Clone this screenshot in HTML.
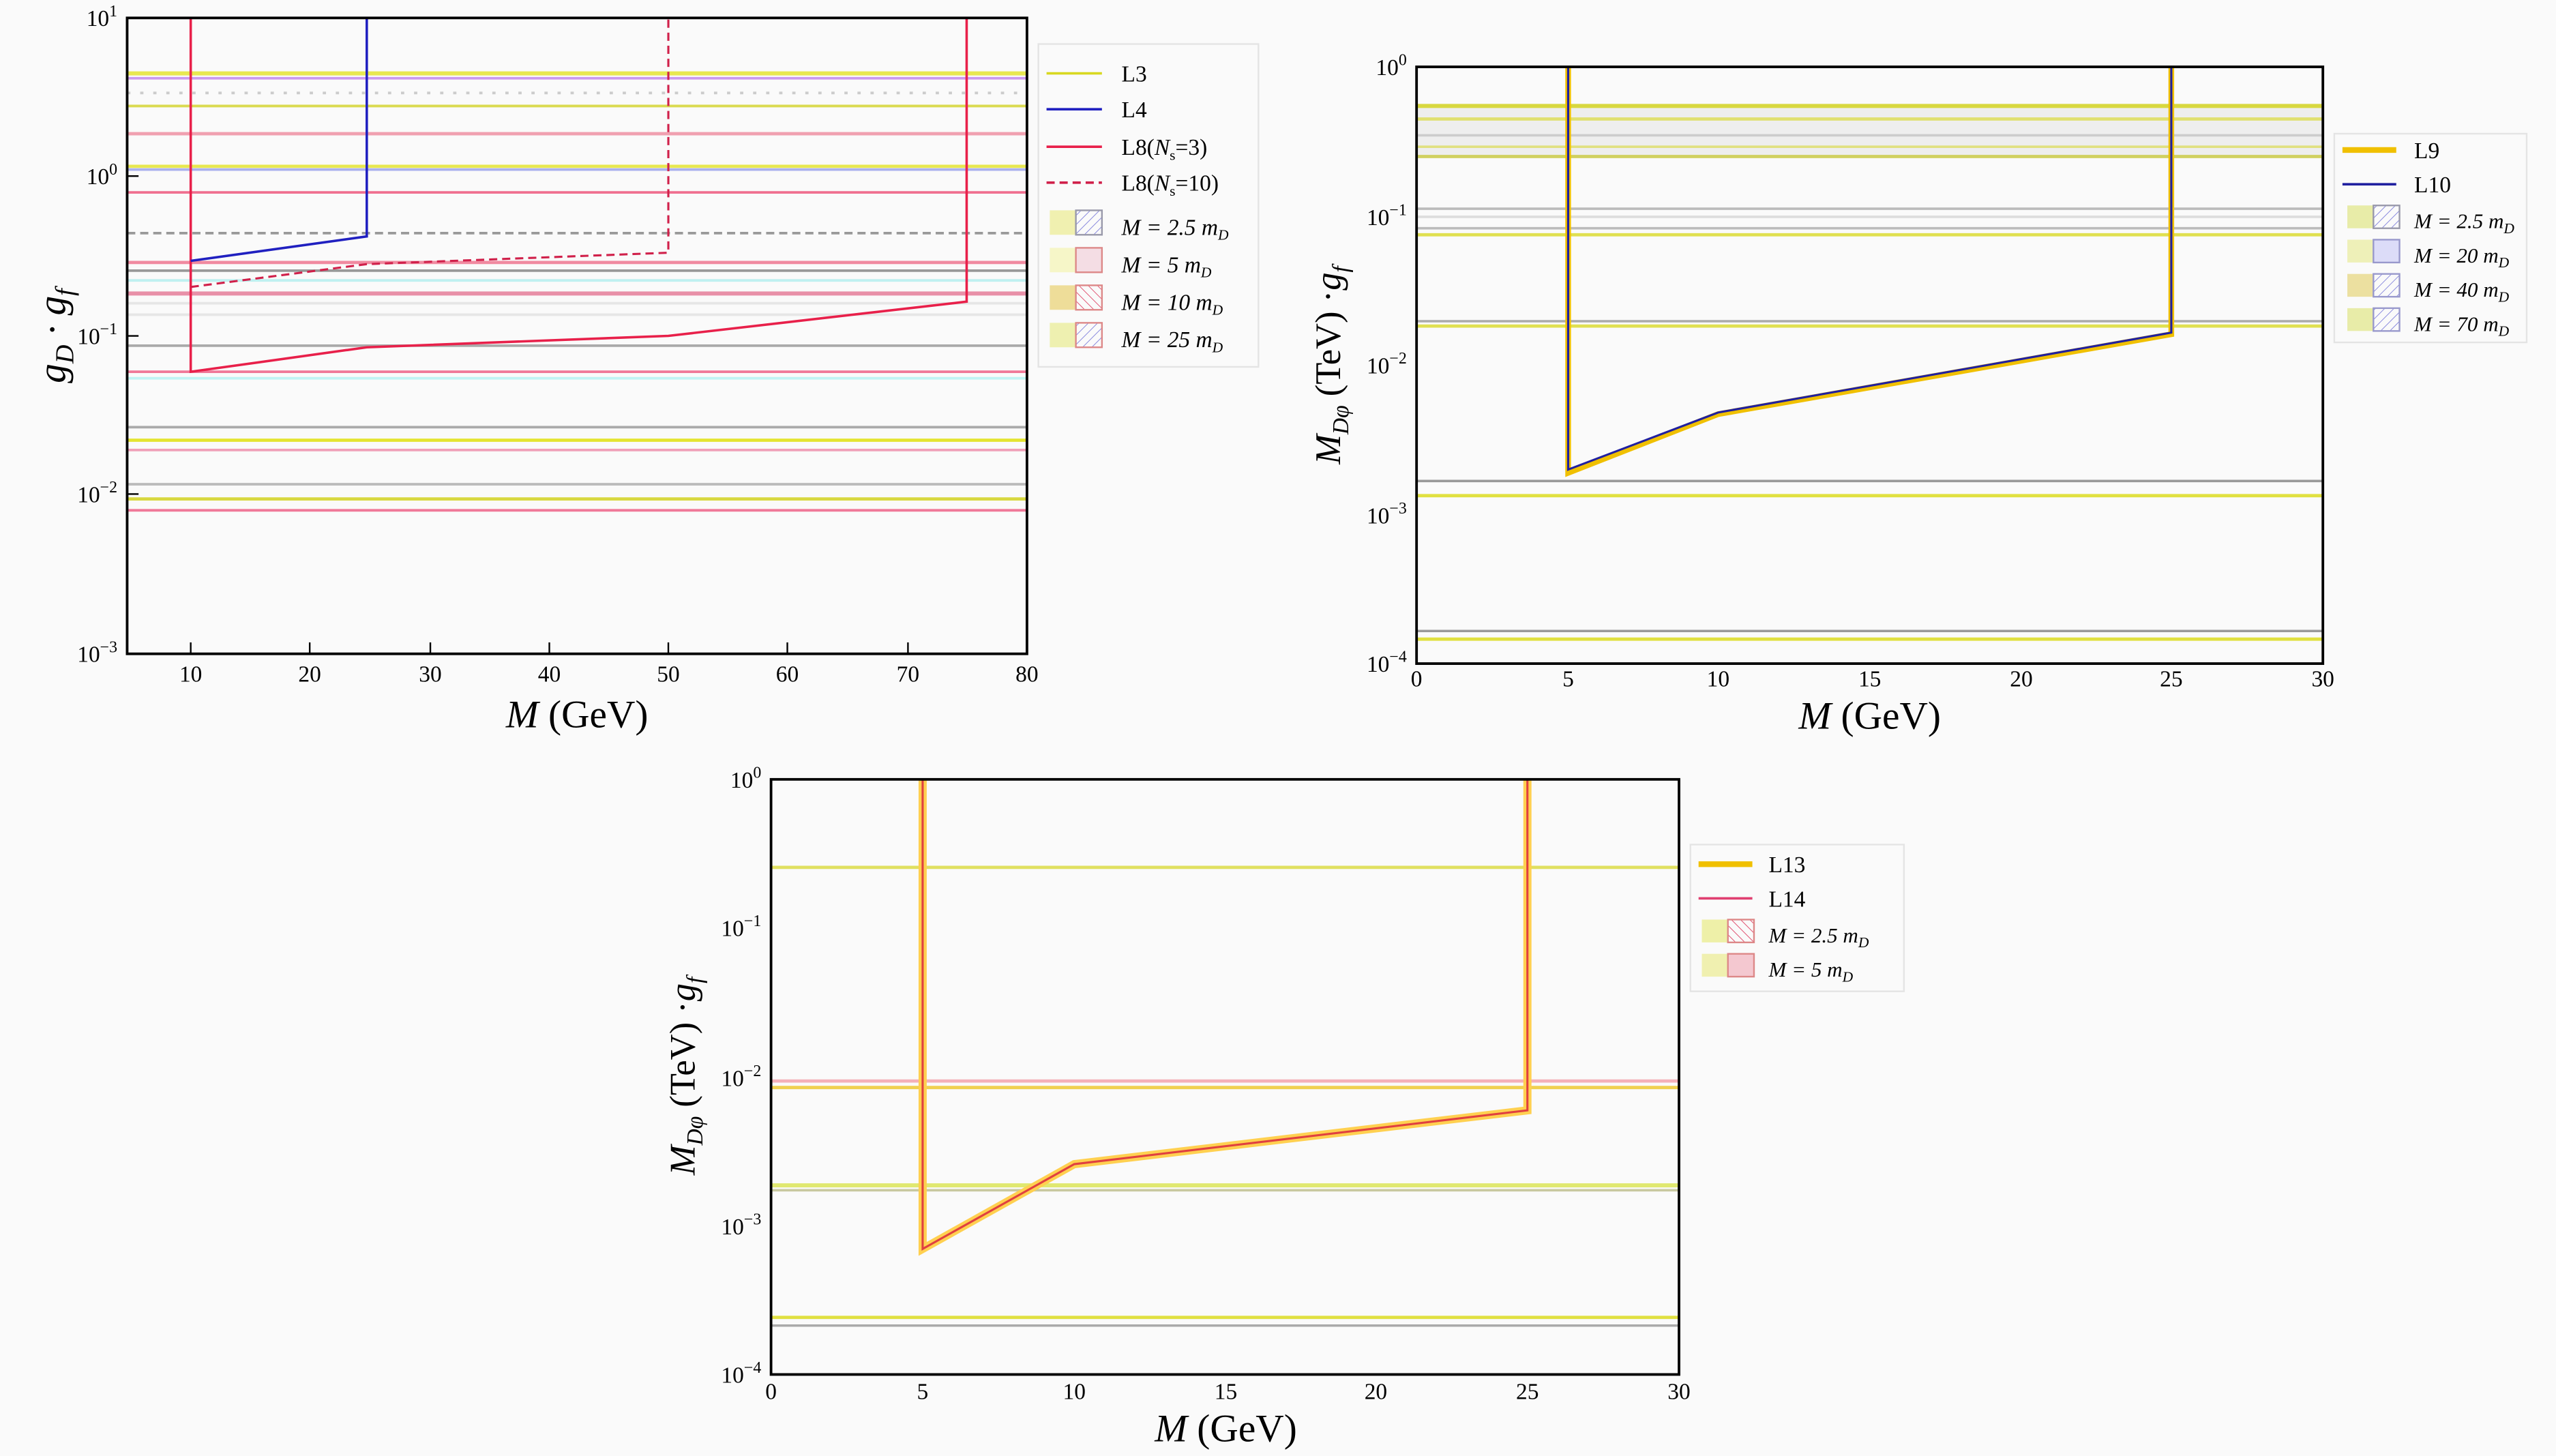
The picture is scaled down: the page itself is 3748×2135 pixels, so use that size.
<!DOCTYPE html>
<html><head><meta charset="utf-8"><style>html,body{margin:0;padding:0;background:#fafafa}svg{display:block}</style></head><body>
<svg width="3748" height="2135" viewBox="0 0 1568 893" preserveAspectRatio="none" xmlns="http://www.w3.org/2000/svg" font-family="Liberation Serif, serif">
<rect width="1568" height="893" fill="#fafafa"/>
<defs>
<pattern id="hb" width="4" height="4" patternUnits="userSpaceOnUse" patternTransform="rotate(45)"><line x1="0" y1="0" x2="0" y2="4" stroke="#8888dd" stroke-width="0.8"/></pattern>
<pattern id="hr" width="4" height="4" patternUnits="userSpaceOnUse" patternTransform="rotate(-45)"><line x1="0" y1="0" x2="0" y2="4" stroke="#e05070" stroke-width="0.8"/></pattern>
</defs>

<!-- ===== Plot 1 ===== -->
<g stroke-width="1.6" fill="none">
<line x1="78" x2="630" y1="45" y2="45" stroke="#e8e850" stroke-width="2.5"/>
<line x1="78" x2="630" y1="48" y2="48" stroke="#cc99ee"/>
<line x1="78" x2="630" y1="57" y2="57" stroke="#ccc" stroke-dasharray="2,6"/>
<line x1="78" x2="630" y1="65" y2="65" stroke="#dada50"/>
<line x1="78" x2="630" y1="82" y2="82" stroke="#f0a0b0" stroke-width="2"/>
<line x1="78" x2="630" y1="102" y2="102" stroke="#e8e850" stroke-width="2"/>
<line x1="78" x2="630" y1="104" y2="104" stroke="#aab0ee"/>
<line x1="78" x2="630" y1="118" y2="118" stroke="#f07090"/>
<line x1="78" x2="630" y1="143" y2="143" stroke="#999" stroke-dasharray="5,3"/>
<line x1="78" x2="630" y1="161" y2="161" stroke="#f08aa0" stroke-width="2"/>
<line x1="78" x2="630" y1="166" y2="166" stroke="#999"/>
<line x1="78" x2="630" y1="172" y2="172" stroke="#bff0f0"/>
<line x1="78" x2="630" y1="180" y2="180" stroke="#e890a8" stroke-width="2.5"/>
<line x1="78" x2="630" y1="186" y2="186" stroke="#e6e6e6"/>
<line x1="78" x2="630" y1="193" y2="193" stroke="#e6e6e6"/>
<line x1="78" x2="630" y1="212" y2="212" stroke="#aaa"/>
<line x1="78" x2="630" y1="228" y2="228" stroke="#f07898"/>
<line x1="78" x2="630" y1="232" y2="232" stroke="#c0f4f4"/>
<line x1="78" x2="630" y1="262" y2="262" stroke="#aaa"/>
<line x1="78" x2="630" y1="270" y2="270" stroke="#e4e430" stroke-width="2"/>
<line x1="78" x2="630" y1="276" y2="276" stroke="#f0a0b8"/>
<line x1="78" x2="630" y1="297" y2="297" stroke="#bbb"/>
<line x1="78" x2="630" y1="306" y2="306" stroke="#d8d840" stroke-width="2"/>
<line x1="78" x2="630" y1="313" y2="313" stroke="#f07898"/>
<polyline points="117,11 117,228 225,213 410,206 593,185 593,11" stroke="#e8204a" stroke-width="1.5"/>
<polyline points="225,11 225,145 117,160" stroke="#2020c0" stroke-width="1.5"/>
<polyline points="117,176 225,162 410,155 410,11" stroke="#d0204a" stroke-width="1.3" stroke-dasharray="5,3"/>
</g>
<rect x="78" y="11" width="552" height="390" fill="none" stroke="#000" stroke-width="1.6"/>
<g stroke="#000" stroke-width="1">
<line x1="117" x2="117" y1="401" y2="394"/><line x1="190" x2="190" y1="401" y2="394"/><line x1="264" x2="264" y1="401" y2="394"/><line x1="337" x2="337" y1="401" y2="394"/><line x1="410" x2="410" y1="401" y2="394"/><line x1="483" x2="483" y1="401" y2="394"/><line x1="557" x2="557" y1="401" y2="394"/>
<line x1="78" x2="85" y1="108" y2="108"/><line x1="78" x2="85" y1="206" y2="206"/><line x1="78" x2="85" y1="303" y2="303"/>
</g>
<g font-size="14" text-anchor="middle">
<text x="117" y="418">10</text><text x="190" y="418">20</text><text x="264" y="418">30</text><text x="337" y="418">40</text><text x="410" y="418">50</text><text x="483" y="418">60</text><text x="557" y="418">70</text><text x="630" y="418">80</text>
</g>
<g font-size="14" text-anchor="end">
<text x="72" y="16">10<tspan dy="-6" font-size="10">1</tspan></text>
<text x="72" y="113">10<tspan dy="-6" font-size="10">0</tspan></text>
<text x="72" y="211">10<tspan dy="-6" font-size="10">−1</tspan></text>
<text x="72" y="308">10<tspan dy="-6" font-size="10">−2</tspan></text>
<text x="72" y="406">10<tspan dy="-6" font-size="10">−3</tspan></text>
</g>
<text x="354" y="446" font-size="24" text-anchor="middle"><tspan font-style="italic">M</tspan> (GeV)</text>
<text transform="translate(40,206) rotate(-90)" font-size="24" text-anchor="middle" font-style="italic">g<tspan font-size="16" dy="5">D</tspan><tspan dy="-5"> · g</tspan><tspan font-size="16" dy="5">f</tspan></text>
<!-- legend 1 -->
<rect x="637" y="27" width="135" height="198" fill="#fafafa" stroke="#e4e4e4"/>
<g stroke-width="1.5"><line x1="642" x2="676" y1="45" y2="45" stroke="#d8d820"/><line x1="642" x2="676" y1="67" y2="67" stroke="#2020c0"/><line x1="642" x2="676" y1="90" y2="90" stroke="#e8204a"/><line x1="642" x2="676" y1="112" y2="112" stroke="#d0204a" stroke-dasharray="5,3"/></g>
<g font-size="14"><text x="688" y="50">L3</text><text x="688" y="72">L4</text><text x="688" y="95">L8(<tspan font-style="italic">N</tspan><tspan font-size="9" dy="3">s</tspan><tspan dy="-3">=3)</tspan></text><text x="688" y="117">L8(<tspan font-style="italic">N</tspan><tspan font-size="9" dy="3">s</tspan><tspan dy="-3">=10)</tspan></text>
<g font-style="italic"><text x="688" y="144">M = 2.5 m<tspan font-size="9" dy="3">D</tspan></text><text x="688" y="167">M = 5 m<tspan font-size="9" dy="3">D</tspan></text><text x="688" y="190">M = 10 m<tspan font-size="9" dy="3">D</tspan></text><text x="688" y="213">M = 25 m<tspan font-size="9" dy="3">D</tspan></text></g></g>
<g><rect x="644" y="129" width="16" height="15" fill="#f0f0b0"/><rect x="660" y="129" width="16" height="15" fill="url(#hb)" stroke="#99a"/>
<rect x="644" y="152" width="16" height="15" fill="#f6f6c8"/><rect x="660" y="152" width="16" height="15" fill="#f4dde4" stroke="#d88"/>
<rect x="644" y="175" width="16" height="15" fill="#eedd99"/><rect x="660" y="175" width="16" height="15" fill="url(#hr)" stroke="#d88"/>
<rect x="644" y="198" width="16" height="15" fill="#eef0b0"/><rect x="660" y="198" width="16" height="15" fill="url(#hb)" stroke="#d88"/></g>

<!-- ===== Plot 2 ===== -->
<g stroke-width="1.5" fill="none">
<rect x="869" y="64" width="556" height="32" fill="#eeeeee" stroke="none"/>
<line x1="869" x2="1425" y1="65" y2="65" stroke="#d8d840" stroke-width="2.5"/>
<line x1="869" x2="1425" y1="73" y2="73" stroke="#e0e070" stroke-width="2"/>
<line x1="869" x2="1425" y1="83" y2="83" stroke="#ccc"/>
<line x1="869" x2="1425" y1="90" y2="90" stroke="#e0e080"/>
<line x1="869" x2="1425" y1="96" y2="96" stroke="#d0d060" stroke-width="2"/>
<line x1="869" x2="1425" y1="128" y2="128" stroke="#bbb"/>
<line x1="869" x2="1425" y1="133" y2="133" stroke="#ddd"/>
<line x1="869" x2="1425" y1="140" y2="140" stroke="#bbb"/>
<line x1="869" x2="1425" y1="144" y2="144" stroke="#e0e050" stroke-width="2"/>
<line x1="869" x2="1425" y1="197" y2="197" stroke="#aaa"/>
<line x1="869" x2="1425" y1="200" y2="200" stroke="#e0e050" stroke-width="2"/>
<line x1="869" x2="1425" y1="295" y2="295" stroke="#999"/>
<line x1="869" x2="1425" y1="304" y2="304" stroke="#e0e040" stroke-width="2"/>
<line x1="869" x2="1425" y1="387" y2="387" stroke="#999"/>
<line x1="869" x2="1425" y1="392" y2="392" stroke="#e0e040" stroke-width="2"/>
<polyline points="962,41 962,290 1054,254 1332,205 1332,41" stroke="#f0c000" stroke-width="3.5"/>
<polyline points="962,41 962,288 1054,253 1332,204 1332,41" stroke="#2020a0" stroke-width="1.3"/>
</g>
<rect x="869" y="41" width="556" height="366" fill="none" stroke="#000" stroke-width="1.6"/>
<g font-size="14" text-anchor="middle"><text x="869" y="421">0</text><text x="962" y="421">5</text><text x="1054" y="421">10</text><text x="1147" y="421">15</text><text x="1240" y="421">20</text><text x="1332" y="421">25</text><text x="1425" y="421">30</text></g>
<g font-size="14" text-anchor="end">
<text x="863" y="46">10<tspan dy="-6" font-size="10">0</tspan></text>
<text x="863" y="138">10<tspan dy="-6" font-size="10">−1</tspan></text>
<text x="863" y="229">10<tspan dy="-6" font-size="10">−2</tspan></text>
<text x="863" y="321">10<tspan dy="-6" font-size="10">−3</tspan></text>
<text x="863" y="412">10<tspan dy="-6" font-size="10">−4</tspan></text>
</g>
<text x="1147" y="447" font-size="24" text-anchor="middle"><tspan font-style="italic">M</tspan> (GeV)</text>
<text transform="translate(822,224) rotate(-90)" font-size="22" text-anchor="middle"><tspan font-style="italic">M</tspan><tspan font-size="14" dy="5" font-style="italic">Dφ</tspan><tspan dy="-5"> (TeV) ·</tspan><tspan font-style="italic">g</tspan><tspan font-size="14" dy="5" font-style="italic">f</tspan></text>
<rect x="1432" y="82" width="118" height="128" fill="#fafafa" stroke="#e4e4e4"/>
<line x1="1437" x2="1470" y1="92" y2="92" stroke="#f0c000" stroke-width="3.5"/>
<line x1="1437" x2="1470" y1="113" y2="113" stroke="#2020a0" stroke-width="1.5"/>
<g font-size="14"><text x="1481" y="97">L9</text><text x="1481" y="118">L10</text>
<g font-style="italic" font-size="13"><text x="1481" y="140">M = 2.5 m<tspan font-size="9" dy="3">D</tspan></text><text x="1481" y="161">M = 20 m<tspan font-size="9" dy="3">D</tspan></text><text x="1481" y="182">M = 40 m<tspan font-size="9" dy="3">D</tspan></text><text x="1481" y="203">M = 70 m<tspan font-size="9" dy="3">D</tspan></text></g></g>
<g><rect x="1440" y="126" width="16" height="14" fill="#e8eca8"/><rect x="1456" y="126" width="16" height="14" fill="url(#hb)" stroke="#99a"/>
<rect x="1440" y="147" width="16" height="14" fill="#eef0b8"/><rect x="1456" y="147" width="16" height="14" fill="#dcdcf8" stroke="#99c"/>
<rect x="1440" y="168" width="16" height="14" fill="#ece0a0"/><rect x="1456" y="168" width="16" height="14" fill="url(#hb)" stroke="#99c"/>
<rect x="1440" y="189" width="16" height="14" fill="#e8eca8"/><rect x="1456" y="189" width="16" height="14" fill="url(#hb)" stroke="#99c"/></g>

<!-- ===== Plot 3 ===== -->
<g stroke-width="1.5" fill="none">
<line x1="473" x2="1030" y1="532" y2="532" stroke="#e0e060" stroke-width="2"/>
<line x1="473" x2="1030" y1="663" y2="663" stroke="#f4b0b8" stroke-width="2"/>
<line x1="473" x2="1030" y1="667" y2="667" stroke="#f0d050" stroke-width="2"/>
<line x1="473" x2="1030" y1="727" y2="727" stroke="#e0e870" stroke-width="2.5"/>
<line x1="473" x2="1030" y1="730" y2="730" stroke="#c8c8a0"/>
<line x1="473" x2="1030" y1="808" y2="808" stroke="#e0e040" stroke-width="2"/>
<line x1="473" x2="1030" y1="813" y2="813" stroke="#aaa"/>
<polyline points="566,478 566,766 659,714 937,681 937,478" stroke="#ffd050" stroke-width="5"/>
<polyline points="566,478 566,766 659,714 937,681 937,478" stroke="#e04040" stroke-width="1.3"/>
</g>
<rect x="473" y="478" width="557" height="365" fill="none" stroke="#000" stroke-width="1.6"/>
<g font-size="14" text-anchor="middle"><text x="473" y="858">0</text><text x="566" y="858">5</text><text x="659" y="858">10</text><text x="752" y="858">15</text><text x="844" y="858">20</text><text x="937" y="858">25</text><text x="1030" y="858">30</text></g>
<g font-size="14" text-anchor="end">
<text x="467" y="483">10<tspan dy="-6" font-size="10">0</tspan></text>
<text x="467" y="574">10<tspan dy="-6" font-size="10">−1</tspan></text>
<text x="467" y="666">10<tspan dy="-6" font-size="10">−2</tspan></text>
<text x="467" y="757">10<tspan dy="-6" font-size="10">−3</tspan></text>
<text x="467" y="848">10<tspan dy="-6" font-size="10">−4</tspan></text>
</g>
<text x="752" y="884" font-size="24" text-anchor="middle"><tspan font-style="italic">M</tspan> (GeV)</text>
<text transform="translate(426,660) rotate(-90)" font-size="22" text-anchor="middle"><tspan font-style="italic">M</tspan><tspan font-size="14" dy="5" font-style="italic">Dφ</tspan><tspan dy="-5"> (TeV) ·</tspan><tspan font-style="italic">g</tspan><tspan font-size="14" dy="5" font-style="italic">f</tspan></text>
<rect x="1037" y="518" width="131" height="90" fill="#fafafa" stroke="#e4e4e4"/>
<line x1="1042" x2="1075" y1="530" y2="530" stroke="#f0c000" stroke-width="3.5"/>
<line x1="1042" x2="1075" y1="551" y2="551" stroke="#e04070" stroke-width="1.5"/>
<g font-size="14"><text x="1085" y="535">L13</text><text x="1085" y="556">L14</text>
<g font-style="italic" font-size="13"><text x="1085" y="578">M = 2.5 m<tspan font-size="9" dy="3">D</tspan></text><text x="1085" y="599">M = 5 m<tspan font-size="9" dy="3">D</tspan></text></g></g>
<g><rect x="1044" y="564" width="16" height="14" fill="#eef0a8"/><rect x="1060" y="564" width="16" height="14" fill="url(#hr)" stroke="#d88"/>
<rect x="1044" y="585" width="16" height="14" fill="#f0f0b0"/><rect x="1060" y="585" width="16" height="14" fill="#f4c8d0" stroke="#d88"/></g>
</svg>
</body></html>
